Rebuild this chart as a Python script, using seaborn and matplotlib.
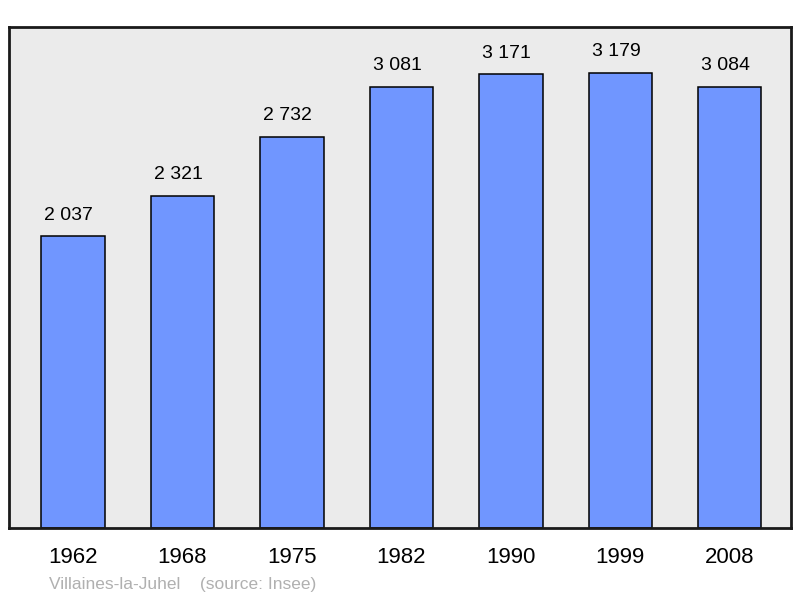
import pandas as pd
import matplotlib.pyplot as plt
import seaborn as sns

# population data
years = ['1962', '1968', '1975', '1982', '1990', '1999', '2008']
population = [2037, 2321, 2732, 3081, 3171, 3179, 3084]
labels = ['2 037', '2 321', '2 732', '3 081', '3 171', '3 179', '3 084']

sns.set_style('white')
plt.rcParams['font.family'] = ['Liberation Sans', 'DejaVu Sans']
plt.rcParams['text.color'] = 'black'
plt.rcParams['xtick.color'] = 'black'

df = pd.DataFrame({'year': years, 'population': population})

fig = plt.figure(figsize=(8, 5.98), dpi=100)
ax = fig.add_axes([9 / 800, 70 / 598, 782 / 800, 501 / 598])
ax.set_facecolor('#ebebeb')

sns.barplot(data=df, x='year', y='population', color='#7096ff', saturation=1,
            width=0.58, edgecolor='black', linewidth=1.1, ax=ax)

# value labels sit slightly left of the bar centre in the original
for bar, txt in zip(ax.patches, labels):
    ax.annotate(txt, (bar.get_x() + bar.get_width() / 2, bar.get_height()),
                xytext=(-3, 9), textcoords='offset points',
                ha='center', va='bottom', fontsize=14, color='black')

ax.set_xlim(-0.585, 6.56)
ax.set_ylim(0, 3500)
ax.set_xlabel('')
ax.set_ylabel('')
ax.set_yticks([])
ax.tick_params(axis='x', length=0, pad=14, labelsize=16, labelcolor='black')

for s in ax.spines.values():
    s.set_visible(True)
    s.set_linewidth(2)
    s.set_color('#1a1a1a')

fig.text(49 / 800, 14 / 598, 'Villaines-la-Juhel    (source: Insee)',
         fontsize=12.5, color='#b0b0b0', va='center', ha='left')

fig.savefig('out.png', dpi=100, facecolor='white')
